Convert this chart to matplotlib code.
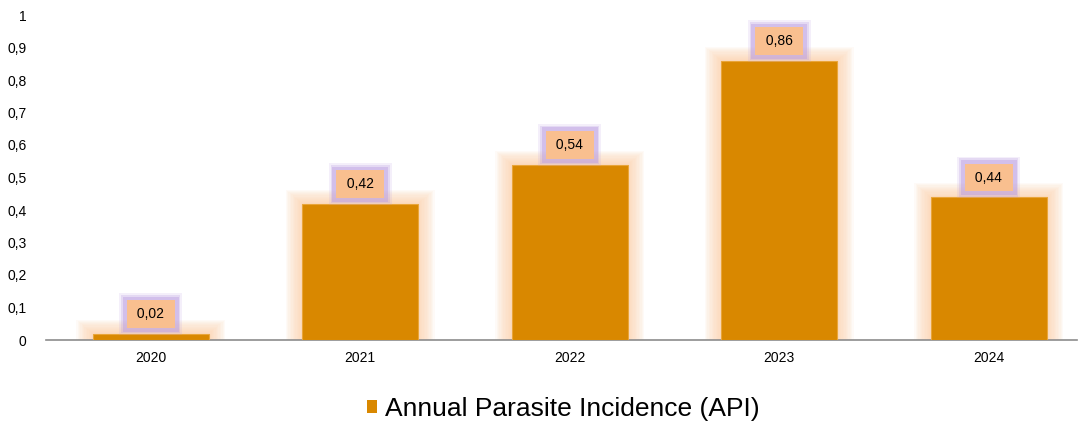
import matplotlib.pyplot as plt
from matplotlib.patches import Patch
import numpy as np

plt.rcParams['font.family'] = ['Liberation Sans', 'DejaVu Sans']

years = ["2020", "2021", "2022", "2023", "2024"]
api_values = [0.02, 0.42, 0.54, 0.86, 0.44]
y_ticks = [0, 0.1, 0.2, 0.3, 0.4, 0.5, 0.6, 0.7, 0.8, 0.9, 1]
y_tick_labels = ["0", "0,1", "0,2", "0,3", "0,4", "0,5", "0,6", "0,7", "0,8", "0,9", "1"]
series_name = "Annual Parasite Incidence (API)"

bar_color = "#D98800"
glow_color = "#FCCFA5"
label_fill = "#F9BF8F"
label_glow = "#B89ADF"

fig = plt.figure(figsize=(10.84, 4.24), dpi=100)
ax = fig.add_axes([46 / 1084, 84 / 424, 1038 / 1084, 325 / 424])

x = np.arange(len(years))
bar_width = 0.555

# soft glow behind the bars
for i in range(12, 0, -1):
    d = 0.0065 * i
    ax.bar(x, np.array(api_values) + d * 0.55, width=bar_width + 2 * d,
           color=glow_color, alpha=0.085, linewidth=0, zorder=1)

ax.bar(x, api_values, width=bar_width, color=bar_color,
       edgecolor="#E9A53A", linewidth=0.8, zorder=3)

# value labels with lavender glow box
for xi, v in zip(x, api_values):
    txt = " " + f"{v:.2f}".replace(".", ",") + " "
    for k, a in [(1.0, 0.15), (0.88, 0.25), (0.76, 0.4)]:
        ax.annotate(txt, (xi, v), xytext=(0, 14), textcoords="offset points",
                    ha="center", va="center", fontsize=10, color="none",
                    bbox=dict(boxstyle=f"square,pad={k}", fc=label_glow, ec="none",
                              alpha=a), zorder=4)
    ax.annotate(txt, (xi, v), xytext=(0, 14), textcoords="offset points",
                ha="center", va="center", fontsize=10, color="black",
                bbox=dict(boxstyle="square,pad=0.48", fc=label_fill, ec="none"),
                zorder=5)

ax.set_xlim(-0.5, -0.5 + 1038 / 209.5)
ax.set_ylim(0, 1)
ax.set_xticks(x)
ax.set_xticklabels(years, fontsize=10)
ax.set_yticks(y_ticks)
ax.set_yticklabels(y_tick_labels, fontsize=10)
ax.tick_params(axis="x", length=0, pad=8)
ax.tick_params(axis="y", length=0, pad=14)

for side in ["top", "right", "left"]:
    ax.spines[side].set_visible(False)
ax.spines["bottom"].set_color("#8C8C8C")
ax.spines["bottom"].set_linewidth(1.2)
ax.spines["bottom"].set_bounds(-0.5, 4.42)

fig.legend(handles=[Patch(facecolor=bar_color, edgecolor="none")], labels=[series_name],
           loc="center", bbox_to_anchor=(0.52, 15 / 424), frameon=False, fontsize=19,
           handlelength=0.38, handleheight=0.38, handletextpad=0.3)

fig.savefig("out.png", dpi=100)
